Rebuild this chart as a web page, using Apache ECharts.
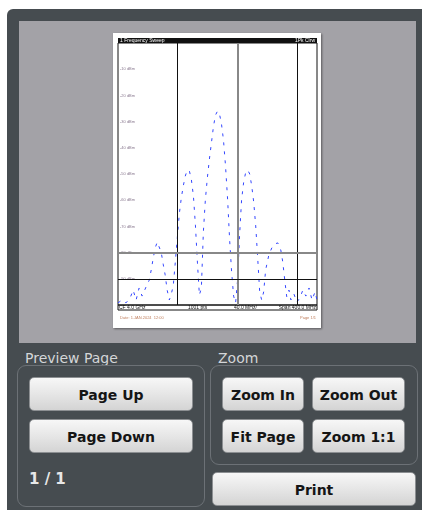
<!DOCTYPE html>
<html>
<head>
<meta charset="utf-8">
<script src="https://cdn.jsdelivr.net/npm/echarts@6/dist/echarts.min.js"></script>
<style>
  body { margin: 0; width: 422px; height: 510px; background: #fff; overflow: hidden; font-family: "DejaVu Sans", sans-serif; }
  .abs { position: absolute; }
  #panel { left: 7px; top: 9px; width: 415px; height: 501px; background: #464c50; border-top-left-radius: 6px; }
  #preview { left: 19px; top: 21px; width: 397px; height: 322px; background: #a3a2a7; }
  #page { left: 113px; top: 33px; width: 208px; height: 295px; background: #fff; box-shadow: 1px 1px 2px rgba(0,0,0,0.45); }
  .label { color: #d4d6d8; font-size: 14px; line-height: 16px; }
  .group { border: 1px solid #6c7176; border-radius: 9px; box-sizing: border-box; }
  .btn { box-sizing: border-box; border: 1px solid #8c8f92; border-radius: 5px;
         background: linear-gradient(#f7f7f7, #e6e6e6 50%, #d4d4d4);
         color: #151515; font-weight: bold; font-size: 14px; text-align: center; }
</style>
</head>
<body>
<div id="panel" class="abs"></div>
<div id="preview" class="abs"></div>
<div id="page" class="abs"></div>

<div class="abs label" style="left:25px;top:350px;">Preview Page</div>
<div class="abs label" style="left:218px;top:350px;">Zoom</div>
<div class="abs group" style="left:17px;top:365px;width:188px;height:142px;"></div>
<div class="abs group" style="left:210px;top:365px;width:208px;height:100px;"></div>

<div class="abs btn" style="left:29px;top:377px;width:164px;height:34px;line-height:35px;">Page Up</div>
<div class="abs btn" style="left:29px;top:419px;width:164px;height:34px;line-height:35px;">Page Down</div>
<div class="abs" style="left:29px;top:470px;color:#e8e8e8;font-weight:bold;font-size:15px;">1 / 1</div>

<div class="abs btn" style="left:222px;top:377px;width:82px;height:34px;line-height:35px;">Zoom In</div>
<div class="abs btn" style="left:312px;top:377px;width:93px;height:34px;line-height:35px;">Zoom Out</div>
<div class="abs btn" style="left:222px;top:419px;width:82px;height:34px;line-height:35px;">Fit Page</div>
<div class="abs btn" style="left:312px;top:419px;width:93px;height:34px;line-height:35px;">Zoom 1:1</div>
<div class="abs btn" style="left:212px;top:472px;width:204px;height:34px;line-height:35px;">Print</div>

<div id="chart" class="abs" style="left:113px;top:33px;width:208px;height:295px;"></div>

<script>
var tracePts = [0, 20, 40, 61, 76, 91, 106, 121, 141, 157, 167, 177, 187, 197, 207, 217, 227, 237, 247, 258,
  268, 278, 288, 298, 308, 318, 328, 338, 348, 359, 369, 379, 389, 399, 409, 419, 429, 439, 449, 460,
  470, 480, 490, 500, 510, 520, 530, 540, 551, 561, 571, 581, 591, 601, 611, 621, 631, 641, 652, 662,
  672, 682, 692, 702, 712, 722, 732, 742, 758, 773, 788, 803, 818, 828, 838, 848, 859, 869, 884, 899,
  914, 929, 944, 960, 975, 990, 1000];
var traceDb = [-99.2, -98.1, -99.2, -97.3, -94.3, -98.1, -93.5, -96.6, -93.1, -90.5, -86.6, -82.1, -78.2, -76.0, -76.7, -79.8, -84.4, -88.5, -94.3, -98.1,
  -95.8, -92.4, -83.6, -74.4, -65.3, -59.2, -54.6, -50.8, -48.5, -48.9, -52.3, -58.4, -69.5, -83.6, -96.2, -93.5, -72.1, -59.9, -51.5, -43.9,
  -37.8, -31.7, -27.5, -26.0, -27.1, -30.9, -37.0, -46.6, -59.9, -75.2, -87.4, -96.6, -99.2, -90.5, -73.3, -59.9, -53.4, -49.6, -48.5, -50.0,
  -54.6, -60.7, -69.8, -82.1, -95.0, -98.1, -95.0, -86.6, -80.9, -78.2, -76.7, -76.3, -79.0, -83.6, -90.5, -96.9, -94.3, -98.1, -95.8, -98.9,
  -97.3, -94.3, -96.6, -93.5, -98.1, -95.0, -98.1];
var yTicks = [-10, -20, -30, -40, -50, -60, -70, -80, -90];
var markerPts = [298, 601, 899];
var displayLines = [-80, -90];
var footLabels = ['CF 4.0 GHz', '1001 pts', '40.0 MHz/', 'Span 400.0 MHz'];

var chart = echarts.init(document.getElementById('chart'));
var data = tracePts.map(function (p, i) { return [p, traceDb[i]]; });

var option = {
  animation: false,
  grid: { left: 5, right: 4, top: 10, bottom: 23, show: true, borderColor: '#111', borderWidth: 1 },
  xAxis: {
    type: 'value', min: 0, max: 1000,
    axisLine: { show: false }, axisTick: { show: false }, axisLabel: { show: false }, splitLine: { show: false }
  },
  yAxis: {
    type: 'value', min: -100, max: 0, interval: 10,
    axisLine: { show: false }, axisTick: { show: false }, splitLine: { show: false },
    axisLabel: {
      inside: true, margin: 2, fontSize: 4, color: '#8a7a90',
      formatter: function (v) { return yTicks.indexOf(v) >= 0 ? v + ' dBm' : ''; }
    }
  },
  series: [{
    type: 'line',
    data: data,
    symbol: 'none',
    lineStyle: { color: '#3346ff', width: 1, type: [3, 6] },
    markLine: {
      silent: true, symbol: 'none', label: { show: false },
      data: [
        { xAxis: markerPts[0], lineStyle: { color: '#111', width: 1, type: 'solid' } },
        { xAxis: markerPts[1], lineStyle: { color: '#888', width: 2, type: 'solid' } },
        { xAxis: markerPts[2], lineStyle: { color: '#111', width: 1, type: 'solid' } },
        { yAxis: displayLines[0], lineStyle: { color: '#888', width: 2, type: 'solid' } },
        { yAxis: displayLines[1], lineStyle: { color: '#111', width: 1, type: 'solid' } }
      ]
    }
  }],
  graphic: [
    { type: 'rect', shape: { x: 5, y: 5, width: 199, height: 5 }, style: { fill: '#111' } },
    { type: 'text', x: 7, y: 5, style: { text: '1 Frequency Sweep', fontSize: 5, fill: '#fff' } },
    { type: 'text', x: 202, y: 5, style: { text: '1Pk Clrw', fontSize: 5, fill: '#fff', align: 'right' } },
    { type: 'rect', shape: { x: 5, y: 272, width: 199, height: 5 }, style: { fill: 'none', stroke: '#111', lineWidth: 1 } },
    { type: 'text', x: 6, y: 272, style: { text: footLabels[0], fontSize: 5, fill: '#111' } },
    { type: 'text', x: 75, y: 272, style: { text: footLabels[1], fontSize: 5, fill: '#111' } },
    { type: 'text', x: 121, y: 272, style: { text: footLabels[2], fontSize: 5, fill: '#111' } },
    { type: 'text', x: 203, y: 272, style: { text: footLabels[3], fontSize: 5, fill: '#111', align: 'right' } },
    { type: 'text', x: 7, y: 283, style: { text: 'Date: 1.JAN.2024  12:00', fontSize: 4, fill: '#c08060' } },
    { type: 'text', x: 203, y: 283, style: { text: 'Page 1/1', fontSize: 4, fill: '#c08060', align: 'right' } }
  ]
};
chart.setOption(option);
</script>
</body>
</html>
